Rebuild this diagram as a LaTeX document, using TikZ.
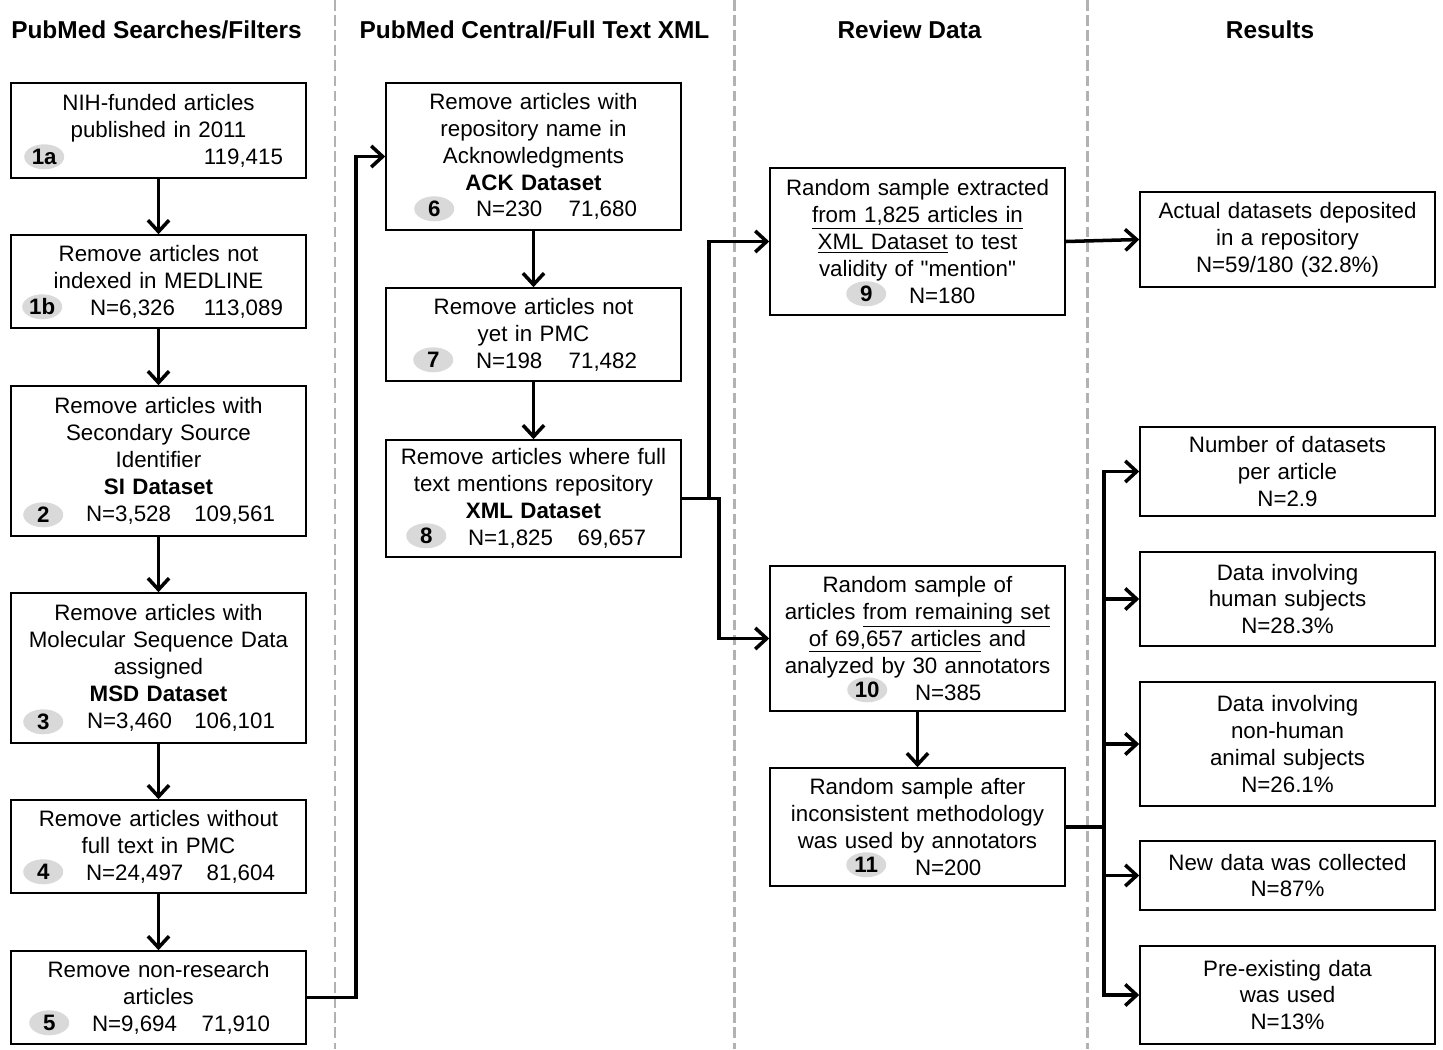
\documentclass[tikz,border=0pt]{standalone}
\usepackage{fontspec}
\setmainfont{Liberation Sans}
\usetikzlibrary{arrows.meta,shapes.geometric}

\newdimen\pxu
\pxu=0.02cm
% last line of a box: count N on the left, article count on the right
\newcommand{\nrow}[4]{\makebox[5.9cm][l]{\hspace*{#1\pxu}#2\hfill #3\hspace*{#4\pxu}}}

\begin{document}
\begin{tikzpicture}[x=0.02cm, y=-0.02cm,
    stepbox/.style={draw, line width=0.9pt, minimum width=5.9cm, text width=5.9cm,
      inner xsep=0pt, align=center, font=\fontsize{12.7}{15.3}\selectfont},
    badge/.style={ellipse, fill=gray!30, inner sep=0pt, minimum width=40*\pxu,
      minimum height=25*\pxu, font=\fontsize{12.7}{15.3}\selectfont\bfseries},
    header/.style={font=\fontsize{13.9}{16}\selectfont\bfseries},
    conn/.style={line width=2pt, -{Straight Barb[length=6.5pt,width=12pt]}},
    sep/.style={gray!60, line width=1.7pt, dash pattern=on 6pt off 2.6pt}]

      \useasboundingbox (0,0) rectangle (1443,1049);

      % Column separators
      \foreach \x in {335,734,1087}
          \draw[sep] (\x,0) -- (\x,1049);

      % Headers
      \node[header] (h1) at (156.5,30) {PubMed Searches/Filters};
      \node[header] (h2) at (534.5,30) {PubMed Central/Full Text XML};
      \node[header] (h3) at (909.5,30) {Review Data};
      \node[header] (h4) at (1270,30) {Results};

      % PubMed searches/filters
      \node[stepbox, minimum height=95*\pxu] (s1a) at (158.5,130.5)
          {NIH-funded articles\\published in 2011\\\nrow{0}{}{119,415}{23}};
      \node[stepbox, minimum height=93*\pxu] (s1b) at (158.5,281.5)
          {Remove articles not\\indexed in MEDLINE\\\nrow{79}{N=6,326}{113,089}{23}};
      \node[stepbox, minimum height=150*\pxu] (s2) at (158.5,461)
          {Remove articles with\\Secondary Source\\Identifier\\\textbf{SI Dataset}\\\nrow{75}{N=3,528}{109,561}{31}};
      \node[stepbox, minimum height=150*\pxu] (s3) at (158.5,668)
          {Remove articles with\\Molecular Sequence Data\\assigned\\\textbf{MSD Dataset}\\\nrow{76}{N=3,460}{106,101}{31}};
      \node[stepbox, minimum height=93*\pxu] (s4) at (158.5,846.5)
          {Remove articles without\\full text in PMC\\\nrow{75}{N=24,497}{81,604}{31}};
      \node[stepbox, minimum height=93*\pxu] (s5) at (158.5,997.5)
          {Remove non-research\\articles\\\nrow{81}{N=9,694}{71,910}{36}};

      % PubMed Central / full text
      \node[stepbox, minimum height=147*\pxu] (s6) at (533.5,156.5)
          {Remove articles with\\repository name in\\Acknowledgments\\\textbf{ACK Dataset}\\\nrow{90}{N=230}{71,680}{44}};
      \node[stepbox, minimum height=93*\pxu] (s7) at (533.5,334.5)
          {Remove articles not\\yet in PMC\\\nrow{90}{N=198}{71,482}{44}};
      \node[stepbox, minimum height=117*\pxu] (s8) at (533.5,498.5)
          {Remove articles where full\\text mentions repository\\\textbf{XML Dataset}\\\nrow{82}{N=1,825}{69,657}{35}};

      % Review data
      \node[stepbox, minimum height=147*\pxu] (s9) at (917.5,241.5)
          {Random sample extracted\\\underline{from 1,825 articles in}\\\underline{XML Dataset} to test\\validity of \textquotedbl mention\textquotedbl\\\nrow{139}{N=180}{}{0}};
      \node[stepbox, minimum height=145*\pxu] (s10) at (917.5,638.5)
          {Random sample of\\articles \underline{from remaining set}\\\underline{of 69,657 articles} and\\analyzed by 30 annotators\\\nrow{145}{N=385}{}{0}};
      \node[stepbox, minimum height=118*\pxu] (s11) at (917.5,827)
          {Random sample after\\inconsistent methodology\\was used by annotators\\\nrow{145}{N=200}{}{0}};

      % Results
      \node[stepbox, minimum height=95*\pxu] (rA) at (1287.5,239.5)
          {Actual datasets deposited\\in a repository\\N=59/180 (32.8\%)};
      \node[stepbox, minimum height=89*\pxu] (rB) at (1287.5,471.5)
          {Number of datasets\\per article\\N=2.9};
      \node[stepbox, minimum height=94*\pxu] (rC) at (1287.5,599)
          {Data involving\\human subjects\\N=28.3\%};
      \node[stepbox, minimum height=124*\pxu] (rD) at (1287.5,744)
          {Data involving\\non-human\\animal subjects\\N=26.1\%};
      \node[stepbox, minimum height=69*\pxu] (rE) at (1287.5,875.5)
          {New data was collected\\N=87\%};
      \node[stepbox, minimum height=98*\pxu] (rF) at (1287.5,995)
          {Pre-existing data\\was used\\N=13\%};

      % Step numbers
      \node[badge] (b1a) at ([shift={(34,-22)}]s1a.south west) {1a};
      \node[badge] (b1b) at ([shift={(32,-22)}]s1b.south west) {1b};
      \node[badge] (b2) at ([shift={(33,-22)}]s2.south west) {2};
      \node[badge] (b3) at ([shift={(33,-22)}]s3.south west) {3};
      \node[badge] (b4) at ([shift={(33,-22)}]s4.south west) {4};
      \node[badge] (b5) at ([shift={(39,-22)}]s5.south west) {5};
      \node[badge] (b6) at ([shift={(49,-22)}]s6.south west) {6};
      \node[badge] (b7) at ([shift={(48,-22)}]s7.south west) {7};
      \node[badge] (b8) at ([shift={(41,-22)}]s8.south west) {8};
      \node[badge] (b9) at ([shift={(97,-22)}]s9.south west) {9};
      \node[badge] (b10) at ([shift={(98,-22)}]s10.south west) {10};
      \node[badge] (b11) at ([shift={(97,-22)}]s11.south west) {11};

      % Arrows down the columns
      \foreach \a/\b in {s1a/s1b,s1b/s2,s2/s3,s3/s4,s4/s5,s6/s7,s7/s8,s10/s11}
          \draw[conn] (\a.south) -- (\b.north);

      % Arrows across columns
      \draw[conn] (s5.east) -- ++(49,0) |- (s6.west);
      \draw[conn] (s8.east) -- ++(27,0) |- (s9.west);
      \draw[conn] (s8.east) -- ++(37,0) |- (s10.west);
      \draw[conn] (s9.east) -- (rA.west);

      % Results fan-out
      \draw[line width=2pt] (s11.east) -- ++(38,0) coordinate (trunk);
      \foreach \r in {rB,rC,rD,rE,rF}
          \draw[conn] (trunk) |- (\r.west);

\end{tikzpicture}
\end{document}
